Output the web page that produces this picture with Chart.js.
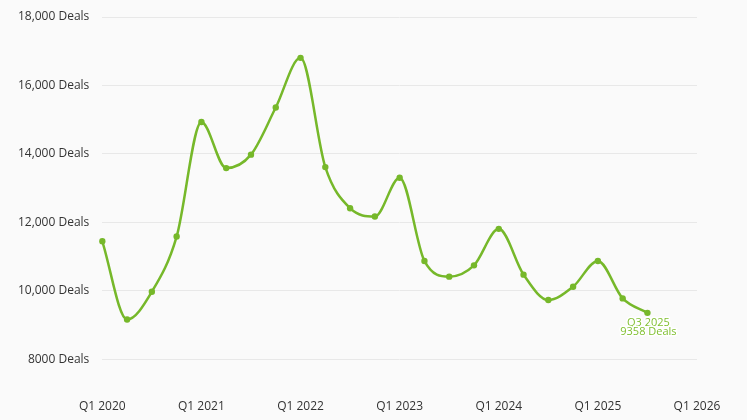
<!DOCTYPE html>
<html>
<head>
<meta charset="utf-8">
<script src="https://cdn.jsdelivr.net/npm/chart.js@4.4.1/dist/chart.umd.min.js"></script>
<style>
html,body{margin:0;padding:0;background:#fafafa;}
#wrap{width:747px;height:420px;position:relative;}
</style>
</head>
<body>
<div id="wrap"><canvas id="c" width="747" height="420"></canvas></div>
<script>
const quarters = [
  "Q1 2020","Q2 2020","Q3 2020","Q4 2020",
  "Q1 2021","Q2 2021","Q3 2021","Q4 2021",
  "Q1 2022","Q2 2022","Q3 2022","Q4 2022",
  "Q1 2023","Q2 2023","Q3 2023","Q4 2023",
  "Q1 2024","Q2 2024","Q3 2024","Q4 2024",
  "Q1 2025","Q2 2025","Q3 2025","Q4 2025",
  "Q1 2026"
];
const deals = [
  11449, 9165, 9976, 11587,
  14934, 13587, 13979, 15355,
  16807, 13616, 12415, 12172,
  13306, 10875, 10416, 10746,
  11812, 10474, 9733, 10123,
  10875, 9780, 9358, null,
  null
];
const yTicks = [8000, 10000, 12000, 14000, 16000, 18000];
const lastLabel = "Q3 2025";
const lastValue = 9358;

const green = '#76b82a';
const fontFam = '"Open Sans", "Noto Sans", sans-serif';

const annotate = {
  id: 'annotate',
  afterDatasetsDraw(chart) {
    const ctx = chart.ctx;
    const x = chart.scales.x.getPixelForValue(quarters.indexOf(lastLabel));
    const y = chart.scales.y.getPixelForValue(lastValue);
    ctx.save();
    ctx.font = '11px ' + fontFam;
    ctx.textAlign = 'center';
    ctx.textBaseline = 'middle';
    ctx.lineWidth = 3;
    ctx.strokeStyle = '#ffffff';
    ctx.lineJoin = 'round';
    const lines = [lastLabel, lastValue + ' Deals'];
    lines.forEach((t, i) => {
      const ty = y + 9.5 + i * 9;
      ctx.strokeText(t, x + 1, ty);
      ctx.fillStyle = '#7fbf2e';
      ctx.fillText(t, x + 1, ty);
    });
    ctx.restore();
  }
};

new Chart(document.getElementById('c'), {
  type: 'line',
  data: {
    labels: quarters,
    datasets: [{
      data: deals,
      borderColor: green,
      backgroundColor: green,
      borderWidth: 2.5,
      pointRadius: 3.2,
      pointHoverRadius: 3.2,
      pointBorderWidth: 0,
      cubicInterpolationMode: 'monotone',
      spanGaps: false,
      fill: false
    }]
  },
  options: {
    responsive: false,
    animation: false,
    layout: { padding: { left: 0, right: 50, top: 17, bottom: 0 } },
    plugins: { legend: { display: false }, tooltip: { enabled: false } },
    scales: {
      x: {
        offset: false,
        grid: { display: false, drawTicks: false },
        border: { display: false },
        ticks: {
          autoSkip: false,
          maxRotation: 0,
          padding: 6,
          color: '#333333',
          font: { family: fontFam, size: 12 },
          callback: function(v, i) { return quarters[i].startsWith('Q1') ? quarters[i] : null; }
        }
      },
      y: {
        min: 7000,
        max: 18000,
        afterBuildTicks: (s) => { s.ticks = yTicks.map(v => ({ value: v })); },
        afterFit: (s) => { s.width = 102.3; s.paddingTop = 0; s.paddingBottom = 0; },
        grid: { color: '#e8e8e8', lineWidth: 1, drawTicks: false },
        border: { display: false },
        ticks: {
          padding: 13,
          color: '#333333',
          font: { family: fontFam, size: 12 },
          callback: (v) => (v >= 10000 ? v.toLocaleString('en-US') : String(v)) + ' Deals'
        }
      }
    }
  },
  plugins: [annotate]
});
</script>
</body>
</html>
